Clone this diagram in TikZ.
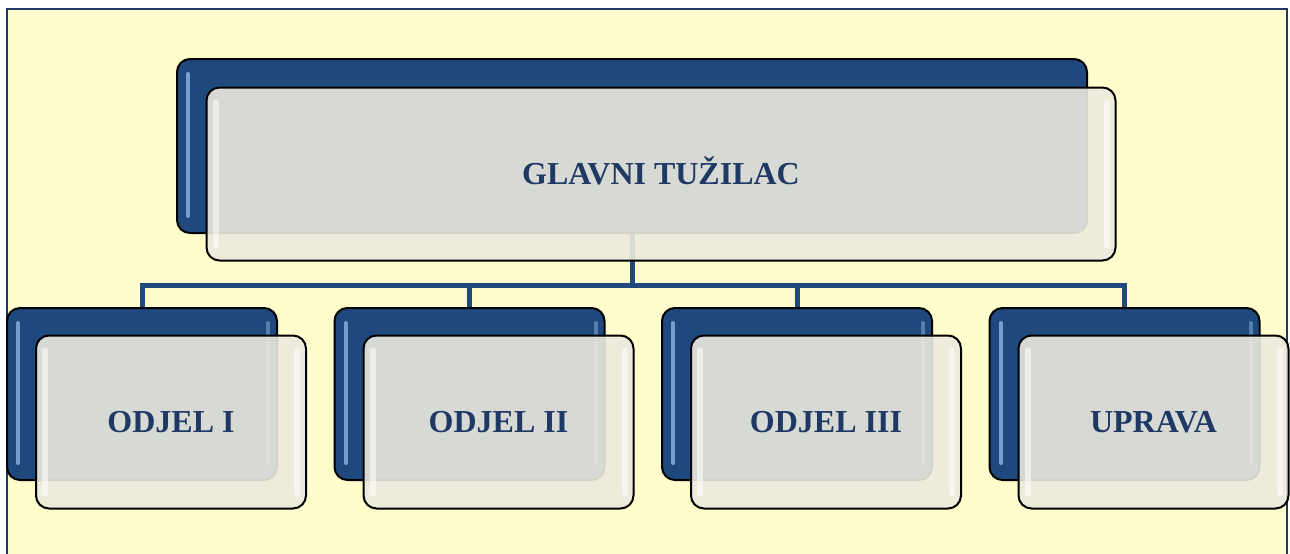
\documentclass[tikz,border=0pt]{standalone}
\usepackage{fontspec}
\setmainfont{Liberation Serif}
\usetikzlibrary{backgrounds}
\definecolor{paper}{RGB}{255,253,204}
\definecolor{navy}{RGB}{31,73,125}
\definecolor{ink}{RGB}{31,56,100}
\definecolor{glass}{RGB}{236,234,222}
\definecolor{sky}{RGB}{141,180,226}
\tikzset{
  backbox/.style={draw=black, line width=1pt, fill=navy, rounded corners=6.5pt,
    minimum width=135pt, minimum height=86pt},
  frontbox/.style={draw=black, line width=1pt, fill=glass, fill opacity=0.9,
    text opacity=1, rounded corners=6.5pt, minimum width=135pt, minimum height=86.5pt,
    xshift=14.5pt, yshift=-14pt, text=ink, text height=10.6pt, text depth=0pt,
    font=\fontsize{16}{18}\selectfont\bfseries},
  wire/.style={draw=navy, line width=2.5pt},
  blueglint/.style={draw=sky, opacity=0.8, line width=2pt, line cap=round},
  glassglint/.style={draw=white, opacity=0.55, line width=3pt, line cap=round}
}

\begin{document}
\begin{tikzpicture}[x=0.5pt,y=-0.5pt]
\path[use as bounding box] (0,0) rectangle (1290,553);
% top box
\node[backbox, minimum width=455pt, minimum height=87pt] (bTop) at (632,146) {};
\draw[blueglint] ([xshift=6pt,yshift=-8pt]bTop.north west) -- ([xshift=6pt,yshift=9pt]bTop.south west);
\node[frontbox, minimum width=454.5pt] (fTop) at (bTop) {GLAVNI TUŽILAC};
\draw[glassglint] ([xshift=5pt,yshift=-8pt]fTop.north west) -- ([xshift=5pt,yshift=8pt]fTop.south west);
\draw[glassglint] ([xshift=-5pt,yshift=-8pt]fTop.north east) -- ([xshift=-5pt,yshift=8pt]fTop.south east);
% departments
\foreach \lbl [count=\i] in {ODJEL I, ODJEL II, ODJEL III, UPRAVA} {
  \node[backbox] (b\i) at ({142+327.5*(\i-1)},394) {};
  \draw[blueglint] ([xshift=6pt,yshift=-8pt]b\i.north west) -- ([xshift=6pt,yshift=9pt]b\i.south west);
  \draw[blueglint, opacity=0.5] ([xshift=-5pt,yshift=-8pt]b\i.north east) -- ([xshift=-5pt,yshift=9pt]b\i.south east);
  \node[frontbox] (f\i) at (b\i) {\lbl};
  \draw[glassglint] ([xshift=5pt,yshift=-8pt]f\i.north west) -- ([xshift=5pt,yshift=8pt]f\i.south west);
  \draw[glassglint] ([xshift=-5pt,yshift=-8pt]f\i.north east) -- ([xshift=-5pt,yshift=8pt]f\i.south east);
}
\coordinate (bus) at (632,285);
\begin{pgfonlayer}{background}
\draw[ink, line width=1.3pt, fill=paper] (7,9) rectangle (1287,557);
\draw[wire] (bTop.south) -- (bus);
\foreach \i in {1,...,4}
  \draw[wire] (b\i.north) |- (bus);
\end{pgfonlayer}
\end{tikzpicture}
\end{document}
